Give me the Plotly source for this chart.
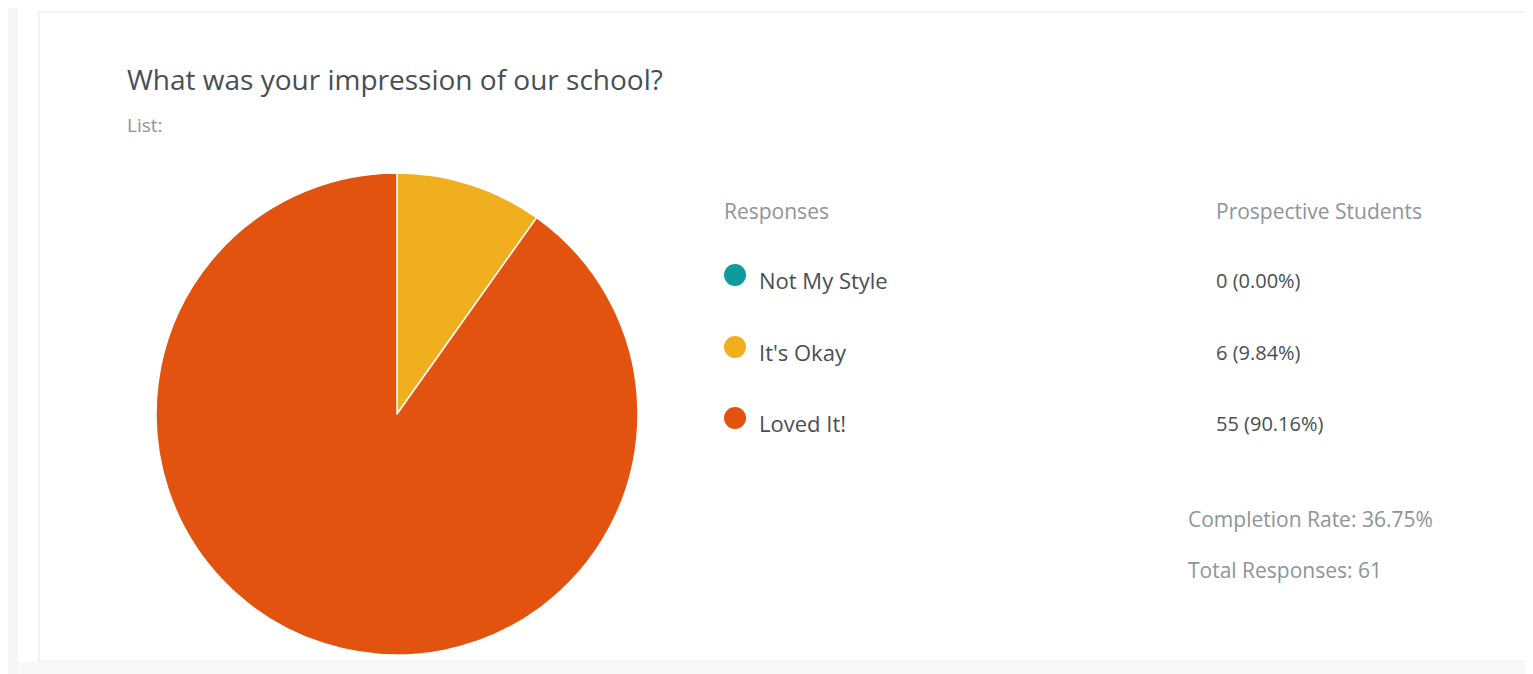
import plotly.graph_objects as go

# page offset from the browser's default body margin
OFF = 8
W, H = 1533 - OFF, 674 - OFF

title_text = "What was your impression of our school?"
subtitle_text = "List:"
categories = ["Not My Style", "It's Okay", "Loved It!"]
counts = [0, 6, 55]
slice_colors = ["#119A9C", "#F0AF1E", "#E2530F"]
legend_header = "Responses"
value_header = "Prospective Students"
completion_rate = 36.75

total = sum(counts)
value_labels = [f"{c} ({c / total * 100:.2f}%)" for c in counts]

FONT = "Open Sans"
DARK = "#474F55"
LIGHT = "#8E9499"


def px(x):
    return (x - OFF) / W


def py(y):
    return 1 - (y - OFF) / H


fig = go.Figure()

fig.add_trace(go.Pie(
    labels=categories,
    values=counts,
    marker=dict(colors=slice_colors, line=dict(color="white", width=1.5)),
    sort=False,
    direction="clockwise",
    rotation=0,
    textinfo="none",
    hoverinfo="label+value+percent",
    showlegend=False,
    domain=dict(x=[px(156), px(638)], y=[py(655), py(173)]),
))

# legend dots
row_y = [275, 347, 418]
fig.add_trace(go.Scatter(
    x=[735] * len(categories),
    y=row_y,
    mode="markers",
    marker=dict(size=22, color=slice_colors),
    hoverinfo="skip",
    showlegend=False,
    xaxis="x", yaxis="y",
))

annotations = []


def txt(x, y, s, size, color, weight=400):
    annotations.append(dict(
        x=px(x), y=py(y), xref="paper", yref="paper", text=s,
        showarrow=False, xanchor="left", yanchor="middle", xshift=-2,
        font=dict(family=FONT, size=size, color=color, weight=weight),
    ))


txt(127, 79, title_text, 28, DARK)
txt(127, 125, subtitle_text, 19, LIGHT)
txt(724, 211, legend_header, 21, LIGHT)
txt(1216, 211, value_header, 21, LIGHT)
for i, cat in enumerate(categories):
    txt(759, row_y[i] + 5, cat, 22, DARK)
    txt(1216, row_y[i] + 5, value_labels[i], 20, DARK)
txt(1188, 519, f"Completion Rate: {completion_rate:.2f}%", 21, LIGHT)
txt(1188, 570, f"Total Responses: {total}", 21, LIGHT)

shapes = [
    dict(type="rect", xref="paper", yref="paper", x0=0, x1=px(18), y0=0, y1=1,
         fillcolor="#F4F6F6", line=dict(width=0), layer="below"),
    dict(type="rect", xref="paper", yref="paper", x0=px(18), x1=1, y0=0, y1=py(662),
         fillcolor="#F7F8F8", line=dict(width=0), layer="below"),
    dict(type="rect", xref="paper", yref="paper", x0=px(39), x1=1.01, y0=py(661), y1=py(12),
         fillcolor="white", line=dict(color="#F0F2F2", width=1.5), layer="below"),
]

fig.update_layout(
    width=W, height=H,
    margin=dict(l=0, r=0, t=0, b=0),
    paper_bgcolor="white",
    plot_bgcolor="rgba(0,0,0,0)",
    xaxis=dict(range=[OFF, W + OFF], visible=False, domain=[0, 1], fixedrange=True),
    yaxis=dict(range=[H + OFF, OFF], visible=False, domain=[0, 1], fixedrange=True),
    annotations=annotations,
    shapes=shapes,
    showlegend=False,
)

fig.write_html("out.html")
